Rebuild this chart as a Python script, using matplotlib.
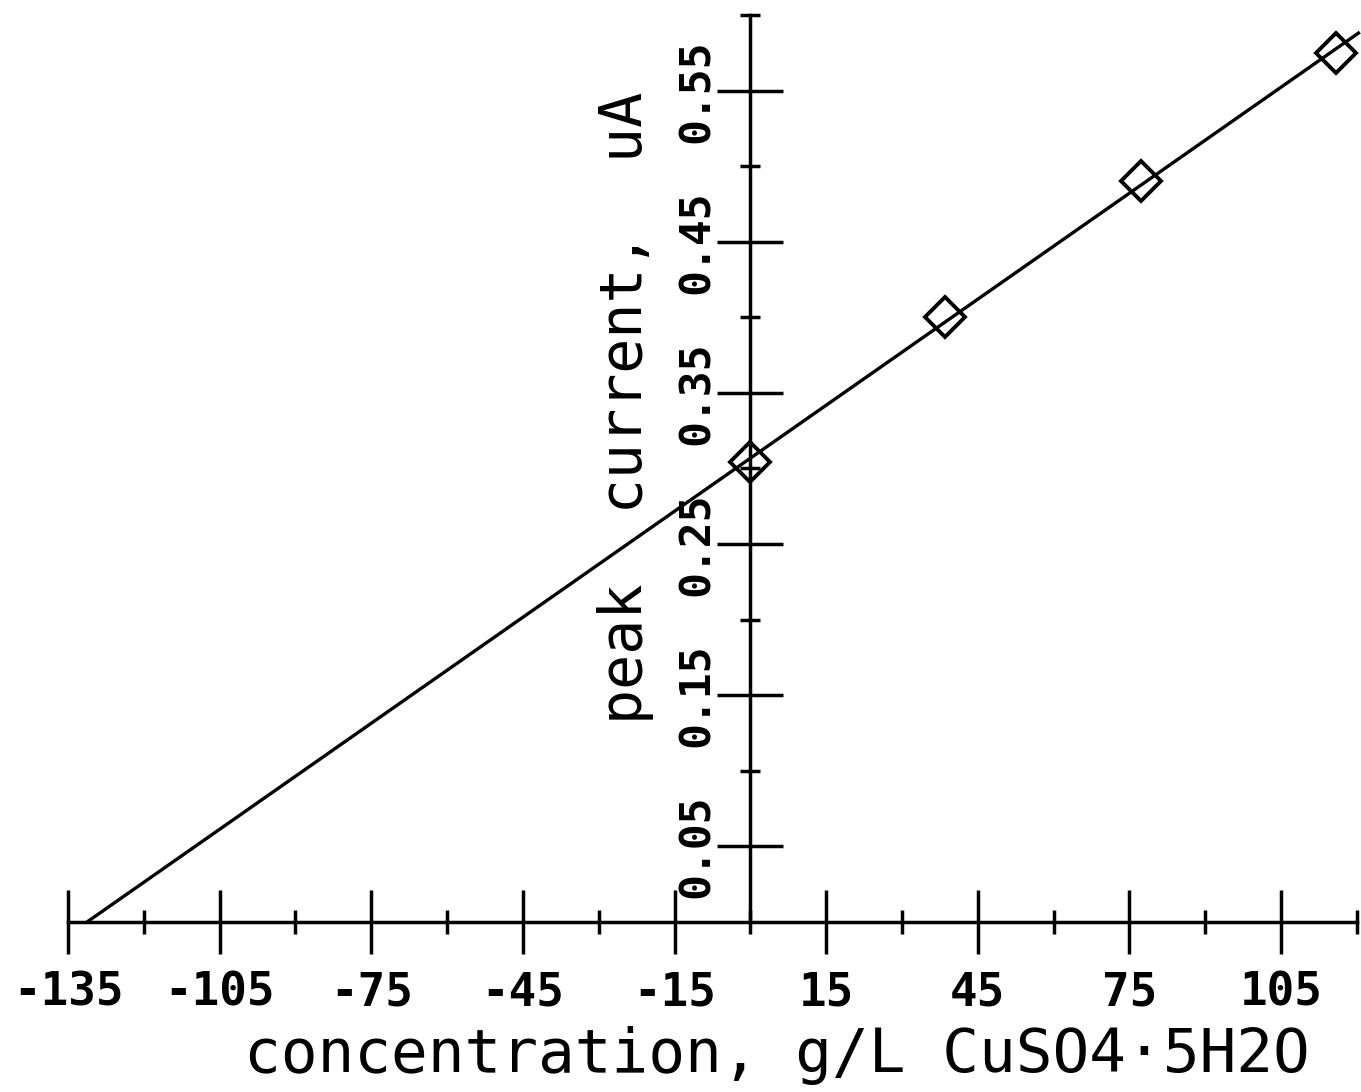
import matplotlib.pyplot as plt
import numpy as np

# standard addition data
conc = [0.0, 38.6, 77.2, 115.8]          # g/L CuSO4.5H2O added
current = [0.304, 0.400, 0.490, 0.575]   # peak current, uA

xmajor = [-135, -105, -75, -45, -15, 15, 45, 75, 105]
xminor = [-120, -90, -60, -30, 0, 30, 60, 90, 120]
ymajor = [0.05, 0.15, 0.25, 0.35, 0.45, 0.55]
yminor = [0.1, 0.2, 0.3, 0.4, 0.5, 0.6]

plt.rcParams['font.family'] = ['DejaVu Sans Mono']

fig = plt.figure(figsize=(13.61, 10.92), dpi=100)
ax = fig.add_axes([0.05, 0.156, 0.947, 0.83])

# fit line, extrapolated to x-intercept
m, b = np.polyfit(conc, current, 1)
xs = np.array([-b / m, 120.3])
ax.plot(xs, m * xs + b, color='black', lw=2.4, clip_on=False)
ax.plot(conc, current, 'D', ms=20, mfc='none', mec='black', mew=2.8, clip_on=False)

ax.set_xlim(-135, 120)
ax.set_ylim(0, 0.6)

for s in ['top', 'right']:
    ax.spines[s].set_visible(False)
ax.spines['left'].set_position(('data', 0))
ax.spines['bottom'].set_position(('data', 0))
ax.spines['left'].set_linewidth(2.5)
ax.spines['bottom'].set_linewidth(2.5)

ax.set_xticks(xmajor)
ax.set_xticklabels([str(v) for v in xmajor], fontsize=33, fontweight='bold')
ax.set_xticks(xminor, minor=True)
ax.tick_params(axis='x', which='major', direction='inout', length=46, width=2.5, pad=12)
ax.tick_params(axis='x', which='minor', direction='inout', length=17, width=2.5)

ax.set_yticks(ymajor)
ax.set_yticklabels([f'{v:.2f}' for v in ymajor], fontsize=31, fontweight='bold',
                   rotation=90, va='center')
ax.set_yticks(yminor, minor=True)
ax.tick_params(axis='y', which='major', direction='inout', length=47, width=2.5, pad=0)
ax.tick_params(axis='y', which='minor', direction='inout', length=15, width=2.5)

ax.set_xlabel('concentration, g/L CuSO4\u00b75H2O', fontsize=44)
ax.xaxis.set_label_coords(0.55, -0.115)
ax.set_ylabel('peak  current,  uA', fontsize=42)
ax.yaxis.set_label_coords(0.455, 0.567)

fig.savefig('out.png', dpi=100, facecolor='white')
